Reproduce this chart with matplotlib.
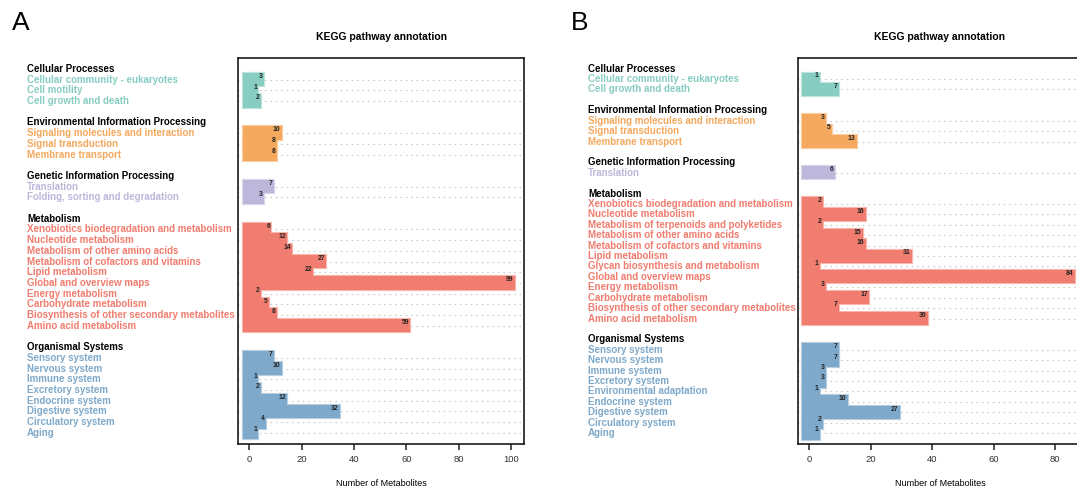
import matplotlib
matplotlib.use("Agg")
import matplotlib.pyplot as plt
from matplotlib.transforms import blended_transform_factory
from matplotlib.colors import to_rgb

plt.rcParams['font.family'] = ['Liberation Sans', 'DejaVu Sans']

# group names and colours
groups = ["Cellular Processes", "Environmental Information Processing",
          "Genetic Information Processing", "Metabolism", "Organismal Systems"]
group_colors = ["#88CDC1", "#F4A95E", "#BDB8DB", "#F07D6F", "#7EA9CA"]

# panel A
a_cellular = ["Cellular community - eukaryotes", "Cell motility", "Cell growth and death"]
a_cellular_n = [3, 1, 2]
a_env = ["Signaling molecules and interaction", "Signal transduction", "Membrane transport"]
a_env_n = [10, 8, 8]
a_gen = ["Translation", "Folding, sorting and degradation"]
a_gen_n = [7, 3]
a_met = ["Xenobiotics biodegradation and metabolism", "Nucleotide metabolism",
         "Metabolism of other amino acids", "Metabolism of cofactors and vitamins",
         "Lipid metabolism", "Global and overview maps", "Energy metabolism",
         "Carbohydrate metabolism", "Biosynthesis of other secondary metabolites",
         "Amino acid metabolism"]
a_met_n = [6, 12, 14, 27, 22, 99, 2, 5, 8, 59]
a_org = ["Sensory system", "Nervous system", "Immune system", "Excretory system",
         "Endocrine system", "Digestive system", "Circulatory system", "Aging"]
a_org_n = [7, 10, 1, 2, 12, 32, 4, 1]

# panel B
b_cellular = ["Cellular community - eukaryotes", "Cell growth and death"]
b_cellular_n = [1, 7]
b_env = ["Signaling molecules and interaction", "Signal transduction", "Membrane transport"]
b_env_n = [3, 5, 13]
b_gen = ["Translation"]
b_gen_n = [6]
b_met = ["Xenobiotics biodegradation and metabolism", "Nucleotide metabolism",
         "Metabolism of terpenoids and polyketides", "Metabolism of other amino acids",
         "Metabolism of cofactors and vitamins", "Lipid metabolism",
         "Glycan biosynthesis and metabolism", "Global and overview maps",
         "Energy metabolism", "Carbohydrate metabolism",
         "Biosynthesis of other secondary metabolites", "Amino acid metabolism"]
b_met_n = [2, 16, 2, 15, 16, 31, 1, 84, 3, 17, 7, 36]
b_org = ["Sensory system", "Nervous system", "Immune system", "Excretory system",
         "Environmental adaptation", "Endocrine system", "Digestive system",
         "Circulatory system", "Aging"]
b_org_n = [7, 7, 3, 3, 1, 10, 27, 2, 1]

a_ticks = [0, 20, 40, 60, 80, 100]
b_ticks = [0, 20, 40, 60, 80]

W, H = 1077, 488
fig = plt.figure(figsize=(W / 100, H / 100), dpi=100)


def lighter(c, f=0.45):
    r, g, b = to_rgb(c)
    return (r + (1 - r) * f, g + (1 - g) * f, b + (1 - b) * f)


def panel(left_px, width_px, label_x_px, items, counts, xlim, ticks, letter, letter_x):
    ax = fig.add_axes([left_px / W, (H - 444) / H, width_px / W, (444 - 57.7) / H])
    tr = blended_transform_factory(fig.transFigure, ax.transData)
    row = 0
    pad = 2.5
    bar_h = 1.25
    rects = []
    for g, col, names, vals in zip(groups, group_colors, items, counts):
        fig.text(label_x_px / W, row, g, transform=tr, fontsize=7, fontweight='bold',
                 color='black', va='center', ha='left')
        row += 1
        for name, v in zip(names, vals):
            fig.text(label_x_px / W, row, name, transform=tr, fontsize=7,
                     fontweight='bold', color=col, va='center', ha='left')
            ln = ax.hlines(row, xlim[0], xlim[1], colors='#c8c8c8', linewidth=1.0,
                           linestyles=(0, (0.3, 3.6)), zorder=1)
            ln.set_capstyle('round')
            rects.append((row, v, col))
            row += 1
        row += 1
    nrows = row - 1
    # outline pass then fill pass so only the outer edge shows
    for r, v, col in rects:
        ax.barh(r, v + 2 * pad, left=-pad, height=bar_h, color=lighter(col),
                edgecolor=lighter(col), linewidth=1.6, zorder=2)
    for r, v, col in rects:
        ax.barh(r, v + 2 * pad, left=-pad, height=bar_h, color=col,
                linewidth=0, zorder=3)
        ax.text(v + pad - 0.5, r - 0.3, str(v), fontsize=4.9, fontweight='bold',
                color='#222222', ha='right', va='center', zorder=4)
    ax.set_xlim(*xlim)
    ax.set_ylim(nrows - 1 + 1.05, -1.05)
    ax.set_yticks([])
    ax.set_xticks(ticks)
    ax.tick_params(axis='x', length=4.5, width=1.2, labelsize=6.8, colors='#333333',
                   pad=3.5)
    for s in ax.spines.values():
        s.set_linewidth(1.2)
        s.set_color('#1a1a1a')
    ax.set_xlabel("Number of Metabolites", fontsize=6.5, labelpad=11)
    ax.set_title("KEGG pathway annotation", fontsize=7.5, fontweight='bold', pad=13)
    fig.text(letter_x / W, 1 - 23 / H, letter, fontsize=19, va='center', ha='left')
    return ax


panel(238, 286, 27,
      [a_cellular, a_env, a_gen, a_met, a_org],
      [a_cellular_n, a_env_n, a_gen_n, a_met_n, a_org_n],
      (-4.3, 105), a_ticks, "A", 12)
panel(798, 284, 588,
      [b_cellular, b_env, b_gen, b_met, b_org],
      [b_cellular_n, b_env_n, b_gen_n, b_met_n, b_org_n],
      (-3.7, 88.8), b_ticks, "B", 571)

fig.savefig("out.png", dpi=100)
